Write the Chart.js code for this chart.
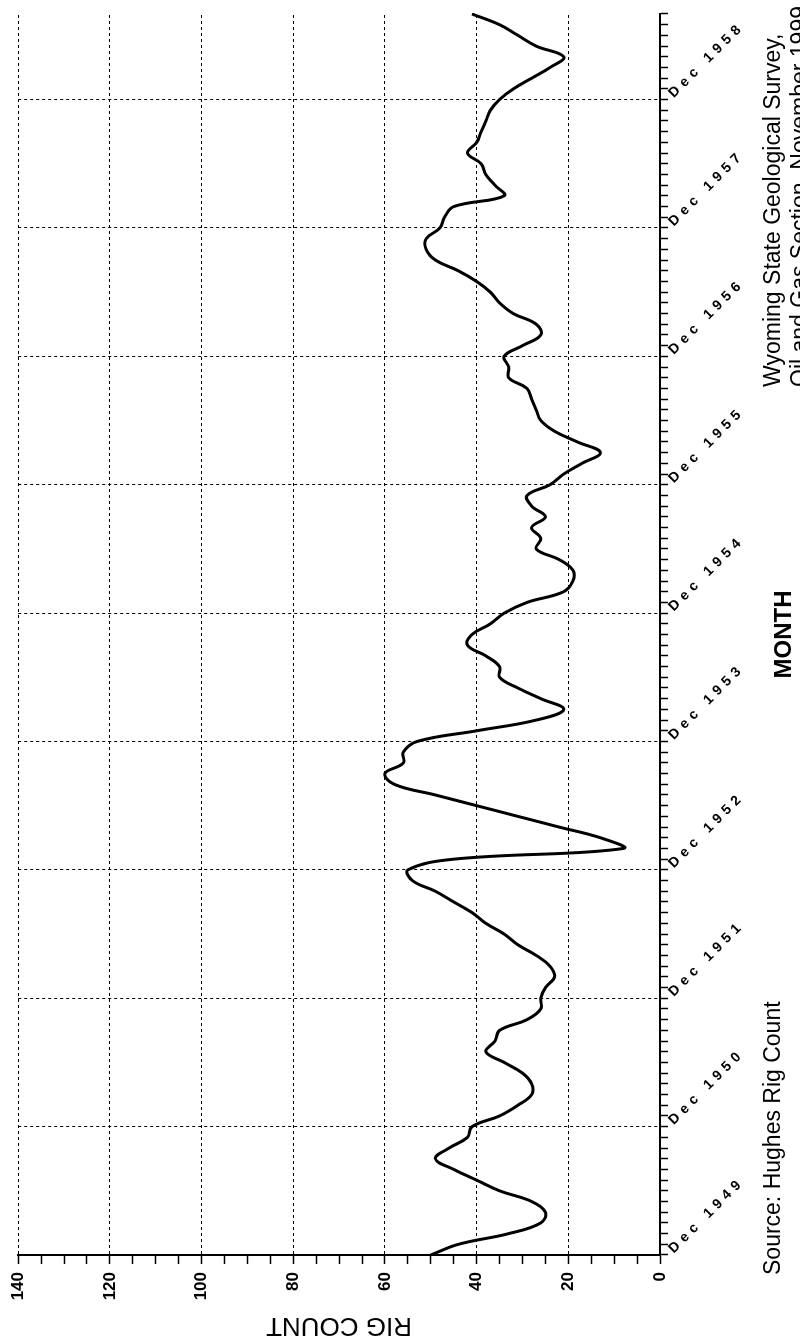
<!DOCTYPE html>
<html>
<head>
<meta charset="utf-8">
<script src="https://cdn.jsdelivr.net/npm/chart.js@4.4.1/dist/chart.umd.min.js"></script>
<style>
  html, body { margin: 0; padding: 0; background: #fff; }
  #page { position: relative; width: 800px; height: 1341px; overflow: hidden; background: #fff; }
  /* chart is drawn landscape, then turned a quarter turn like the scan */
  #wrap { position: absolute; left: 0; top: 0; width: 1341px; height: 800px;
          transform-origin: 0 0; transform: translate(0, 1341px) rotate(-90deg); }
</style>
</head>
<body>
<div id="page"><div id="wrap"><canvas id="rig-chart" width="1341" height="800"></canvas></div></div>
<script>
// Wyoming rig count, monthly, Dec 1949 .. Aug 1959
const rigCount = [
  50, 44, 33, 26, 25, 28, 35, 40, 45, 49, 46, 42,
  41, 35, 31, 28, 28, 30, 34, 38, 36, 35, 29, 26,
  26, 25, 23, 24, 27, 31, 34, 38, 41, 45, 49, 54,
  55, 45, 8, 13, 22, 31, 40, 49, 58, 60, 56, 56,
  53, 40, 27, 21, 26, 31, 35, 35, 38, 42, 41, 37,
  34, 29, 21, 19, 19, 22, 27, 26, 28, 25, 28, 29,
  24, 21, 17, 13, 18, 23, 26, 27, 28, 29, 33, 33,
  34, 30, 26, 27, 32, 35, 37, 40, 44, 49, 51, 51,
  48, 47, 45, 34, 36, 38, 39, 42, 40, 39, 38, 37,
  35, 32, 28, 24, 21, 27, 31, 35, 41
];

const yearTicks = ['Dec 1949', 'Dec 1950', 'Dec 1951', 'Dec 1952', 'Dec 1953',
  'Dec 1954', 'Dec 1955', 'Dec 1956', 'Dec 1957', 'Dec 1958'];

const monthNames = ['Jan', 'Feb', 'Mar', 'Apr', 'May', 'Jun', 'Jul', 'Aug', 'Sep', 'Oct', 'Nov', 'Dec'];

const sourceNote = 'Source: Hughes Rig Count';
const creditLines = ['Wyoming State Geological Survey,', 'Oil and Gas Section, November 1999'];

// one category per month, starting Dec 1949
const monthLabels = rigCount.map((v, i) => {
  const m = 11 + i;
  return monthNames[m % 12] + ' ' + (1949 + Math.floor(m / 12));
});

// year labels hang off the month axis at 45 degrees, plus the footer notes
const annotations = {
  id: 'annotations',
  afterDraw(chart) {
    const ctx = chart.ctx;
    const x = chart.scales.x;
    ctx.save();
    ctx.fillStyle = '#000';
    ctx.font = 'bold 14px "Liberation Sans", Arial, sans-serif';
    ctx.letterSpacing = '5px';
    ctx.textAlign = 'left';
    ctx.textBaseline = 'middle';
    yearTicks.forEach((label, k) => {
      const px = x.getPixelForValue(k * 12);
      ctx.save();
      ctx.translate(px + 4, x.top + 11);
      ctx.rotate(Math.PI / 4);
      ctx.fillText(label, 0, 0);
      ctx.restore();
    });

    ctx.letterSpacing = '0px';
    ctx.font = '23px "Liberation Sans", Arial, sans-serif';
    ctx.textBaseline = 'alphabetic';
    ctx.fillText(sourceNote, 66, 780);
    creditLines.forEach((line, k) => ctx.fillText(line, 954, 780 + k * 27));
    ctx.restore();
  }
};

const ctx = document.getElementById('rig-chart').getContext('2d');

new Chart(ctx, {
  type: 'line',
  data: {
    labels: monthLabels,
    datasets: [{
      label: 'Rig count',
      data: rigCount,
      borderColor: '#000',
      borderWidth: 3,
      pointRadius: 0,
      tension: 0.4,
      fill: false
    }]
  },
  options: {
    responsive: false,
    animation: false,
    devicePixelRatio: 1,
    layout: { padding: { top: 15, right: 14, left: 0, bottom: 0 } },
    plugins: {
      legend: { display: false },
      tooltip: { enabled: false }
    },
    scales: {
      x: {
        type: 'category',
        afterFit: (scale) => { scale.height = 140; },
        grid: {
          color: (c) => (c.index > 0 && c.index % 12 === 0 ? '#000' : 'rgba(0,0,0,0)'),
          tickColor: '#000',
          lineWidth: 1,
          tickLength: 8,
          tickWidth: 1.5
        },
        border: { display: true, color: '#000', width: 2, dash: [3, 3] },
        ticks: { display: false },
        title: {
          display: true,
          text: 'MONTH',
          color: '#000',
          font: { family: '"Liberation Sans", Arial, sans-serif', size: 24, weight: 'bold' },
          padding: { top: 0, bottom: 1 }
        }
      },
      y: {
        min: 0,
        max: 140,
        afterFit: (scale) => { scale.width = 86; },
        grid: {
          color: (c) => (c.tick.value > 0 && c.tick.value % 20 === 0 ? '#000' : 'rgba(0,0,0,0)'),
          tickColor: '#000',
          lineWidth: 1,
          tickLength: 9,
          tickWidth: 1.5
        },
        border: { display: true, color: '#000', width: 2, dash: [3, 3] },
        ticks: {
          stepSize: 5,
          autoSkip: false,
          padding: 8,
          color: '#000',
          font: { family: '"Liberation Sans", Arial, sans-serif', size: 17, weight: 'bold' },
          callback: (v) => (v % 20 === 0 ? v : '')
        },
        title: {
          display: true,
          text: 'RIG COUNT',
          color: '#000',
          font: { family: '"Liberation Sans", Arial, sans-serif', size: 26 },
          padding: { top: 0, bottom: 0 }
        }
      }
    }
  },
  plugins: [annotations]
});
</script>
</body>
</html>
